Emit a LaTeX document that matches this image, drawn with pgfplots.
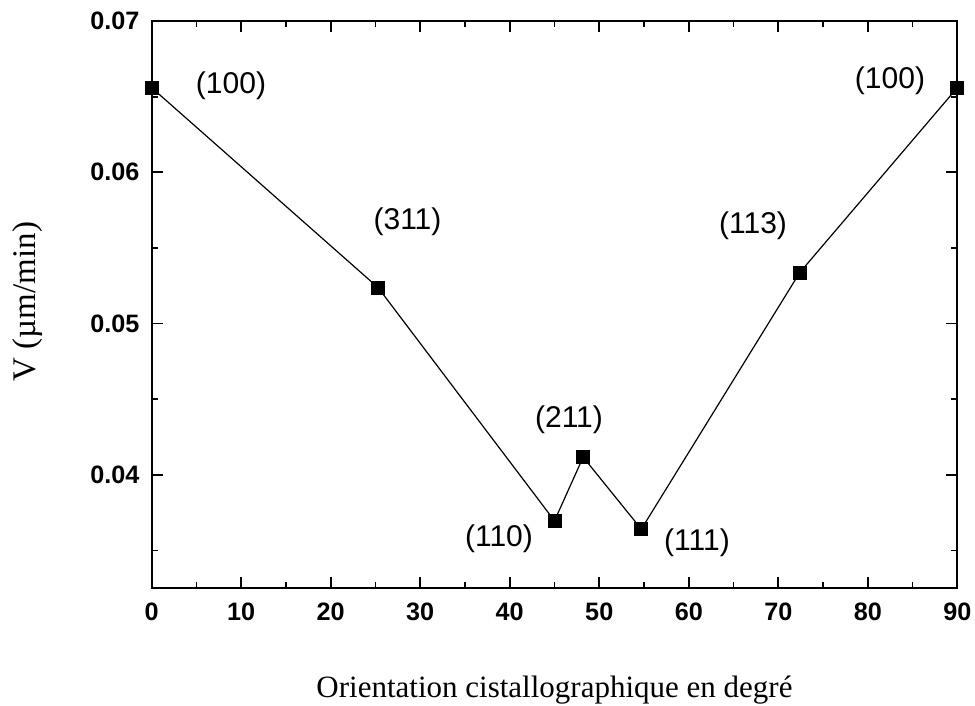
\documentclass[border=0pt]{standalone}
\usepackage{pgfplots}
\pgfplotsset{compat=1.18}
\usepackage{fontspec}
\setmainfont{Liberation Serif}
\newfontfamily\arial{Liberation Sans}
\usetikzlibrary{calc}

\begin{document}
\begin{tikzpicture}
\begin{axis}[
  name=ax,
  width=402.8pt, height=283.65pt, scale only axis,
  xmin=0, xmax=90, ymin=0.0325, ymax=0.07,
  clip=false,
  axis line style={line width=0.9pt},
  tick style={line width=0.9pt, black},
  tick align=inside,
  major tick length=5.5pt, minor tick length=3pt,
  xtick={0,10,...,90}, minor x tick num=1,
  ytick={0.04,0.05,0.06,0.07}, minor ytick={0.035,0.045,0.055,0.065},
  /pgf/number format/assume math mode=true,
  tick label style={font=\arial\bfseries\fontsize{12.6}{15}\selectfont, inner sep=0pt},
  xticklabel style={anchor=north, yshift=-7pt},
  yticklabel style={anchor=east, xshift=-5.9pt,
    /pgf/number format/fixed, /pgf/number format/precision=2,
    /pgf/number format/fixed zerofill},
  scaled y ticks=false,
  xlabel={Orientation cistallographique en degré},
  ylabel={V (µm/min)},
  xlabel style={font=\fontsize{15.5}{18}\selectfont, at={(axis description cs:0.5,-0.1793)}, anchor=center},
  ylabel style={font=\fontsize{16.5}{19}\selectfont, at={(axis description cs:-0.1536,0.5056)}, rotate=0, anchor=center},
]
% growth rate versus crystallographic orientation
\addplot[black, line width=0.6pt, mark=square*, mark size=3.2pt,
  mark options={solid, fill=black}] coordinates {
  (0,0.06559) (25.3,0.05237) (45.0,0.03696) (48.2,0.04117)
  (54.7,0.03641) (72.4,0.05337) (90,0.06559)
};
% orientation labels
\begin{scope}[every node/.style={font=\arial\fontsize{15}{18}\selectfont, inner sep=0pt, anchor=center}]
\node at (axis cs:8.86,0.0657) {(100)};
\node at (axis cs:28.58,0.05672) {(311)};
\node at (axis cs:46.62,0.04363) {(211)};
\node at (axis cs:38.80,0.03577) {(110)};
\node at (axis cs:60.92,0.03551) {(111)};
\node at (axis cs:67.18,0.05645) {(113)};
\node at (axis cs:82.48,0.06607) {(100)};
\end{scope}
\end{axis}
\pgfresetboundingbox
\useasboundingbox ([shift={(-75.85pt,-58.85pt)}]ax.south west) rectangle ([shift={(8.85pt,10.5pt)}]ax.north east);
\end{tikzpicture}
\end{document}
